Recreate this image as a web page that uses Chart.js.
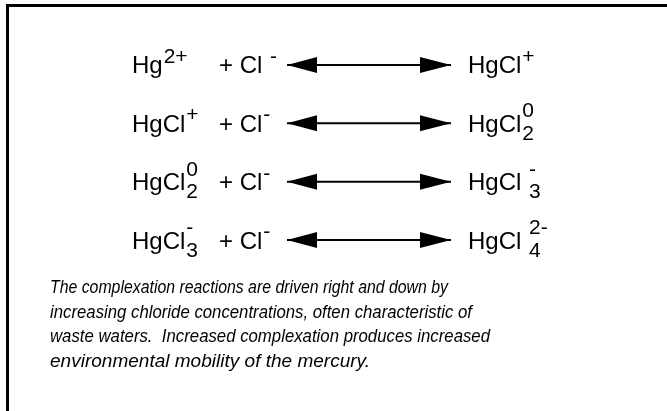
<!DOCTYPE html>
<html>
<head>
<meta charset="utf-8">
<script src="https://cdn.jsdelivr.net/npm/chart.js@4"></script>
<style>
  html, body { margin: 0; padding: 0; background: #fff; }
  #frame { position: absolute; left: 6px; top: 4px; width: 700px; height: 420px;
           border-top: 3px solid #000; border-left: 3px solid #000; }
  #chart { position: absolute; left: 0; top: 0; }
</style>
</head>
<body>
<div id="frame"></div>
<canvas id="chart" width="667" height="411"></canvas>
<script>
// reaction rows, top to bottom
var reactants   = ['Hg', 'HgCl', 'HgCl', 'HgCl'];
var reactantSup = ['2+', '+', '0', '-'];
var reactantSub = ['', '', '2', '3'];
var ligand      = ['+ Cl ', '+ Cl', '+ Cl', '+ Cl'];
var ligandSup   = ['-', '-', '-', '-'];
var products    = ['HgCl', 'HgCl', 'HgCl ', 'HgCl '];
var productSup  = ['+', '0', '-', '2-'];
var productSub  = ['', '2', '3', '4'];
var caption = [
    'The complexation reactions are driven right and down by',
    'increasing chloride concentrations, often characteristic of',
    'waste waters.  Increased complexation produces increased',
    'environmental mobility of the mercury.'
];

// layout (x in scale units)
var colReactant = 132, colLigand = 219, colProduct = 468;
var arrowLeft = 287, arrowRight = 451;
var captionX = 50;
var captionWidths = [398, 422, 440, 320];

var FONT = "'Liberation Sans', Arial, sans-serif";

var arrowSets = reactants.map(function (r, i) {
    return {
        data: [{x: arrowLeft, y: i}, {x: arrowRight, y: i}],
        showLine: true,
        borderColor: '#000',
        borderWidth: 2,
        pointRadius: 0
    };
});

function drawSpecies(ctx, x, y, base, sup, sub) {
    ctx.font = '24px ' + FONT;
    ctx.fillText(base, x, y + 8.5);
    var sx = x + ctx.measureText(base).width + 1;
    ctx.font = '21px ' + FONT;
    if (sub) {
        ctx.fillText(sub, sx, y + 16.5);
        ctx.fillText(sup, sx, y - 6);
    } else if (sup) {
        ctx.fillText(sup, sx, y - 2);
    }
}

var diagramPlugin = {
    id: 'diagram',
    afterDatasetsDraw: function (chart) {
        var ctx = chart.ctx, xs = chart.scales.x, ys = chart.scales.y;
        ctx.save();
        ctx.fillStyle = '#000';
        ctx.textBaseline = 'alphabetic';
        chart.data.datasets.forEach(function (ds, i) {
            var pts = chart.getDatasetMeta(i).data;
            var a = pts[0], b = pts[pts.length - 1];
            // arrow heads
            ctx.beginPath();
            ctx.moveTo(a.x, a.y);
            ctx.lineTo(a.x + 30, a.y - 8);
            ctx.lineTo(a.x + 30, a.y + 8);
            ctx.closePath();
            ctx.fill();
            ctx.beginPath();
            ctx.moveTo(b.x, b.y);
            ctx.lineTo(b.x - 31, b.y - 8);
            ctx.lineTo(b.x - 31, b.y + 8);
            ctx.closePath();
            ctx.fill();

            var y = ys.getPixelForValue(i);
            drawSpecies(ctx, xs.getPixelForValue(colReactant), y, reactants[i], reactantSup[i], reactantSub[i]);
            drawSpecies(ctx, xs.getPixelForValue(colLigand), y, ligand[i], ligandSup[i], '');
            drawSpecies(ctx, xs.getPixelForValue(colProduct), y, products[i], productSup[i], productSub[i]);
        });

        // caption, each line fitted to its width in the original
        ctx.font = 'italic 18px ' + FONT;
        var cx = xs.getPixelForValue(captionX);
        var cy = ys.getPixelForValue(3) + 53;
        caption.forEach(function (line, k) {
            var s = captionWidths[k] / ctx.measureText(line).width;
            ctx.save();
            ctx.translate(cx, cy + k * 24.5);
            ctx.scale(s, 1);
            ctx.fillText(line, 0, 0);
            ctx.restore();
        });
        ctx.restore();
    }
};

new Chart(document.getElementById('chart').getContext('2d'), {
    type: 'scatter',
    data: { datasets: arrowSets },
    options: {
        responsive: false,
        animation: false,
        devicePixelRatio: 1,
        layout: { padding: 0 },
        plugins: { legend: { display: false }, tooltip: { enabled: false } },
        scales: {
            x: { type: 'linear', min: 0, max: 667, display: false },
            y: { type: 'linear', min: -1.114, max: 5.931, reverse: true, display: false }
        }
    },
    plugins: [diagramPlugin]
});
</script>
</body>
</html>
